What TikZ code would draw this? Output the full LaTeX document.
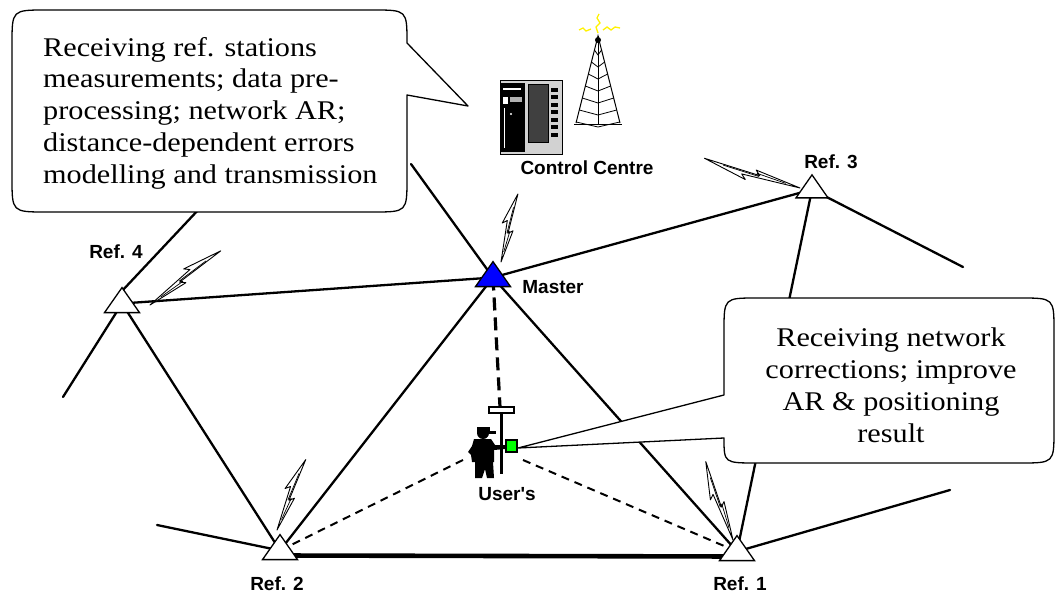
\documentclass[tikz,border=0pt]{standalone}
\usepackage{fontspec}
\setmainfont{Liberation Serif}
\newfontfamily\calloutfont[FakeStretch=1.12]{Liberation Serif}
\newfontfamily\labelfont{Liberation Sans}
\usetikzlibrary{shapes.geometric}

\tikzset{
  net/.style={line width=2.3pt, line cap=round},
  trunk/.style={line width=4.6pt},
  station/.style={isosceles triangle, shape border rotate=90,
    isosceles triangle stretches, minimum width=35pt, minimum height=25pt,
    inner sep=0pt, draw, line width=1.3pt, fill=white},
  masterstation/.style={station, fill=blue},
  link/.style={line width=3.2pt, dash pattern=on 13pt off 7pt},
  rover/.style={line width=2pt, dash pattern=on 8pt off 6pt},
  tag/.style={font=\labelfont\bfseries\fontsize{19}{22}\selectfont, inner sep=0pt},
  balloon/.style={draw, line width=1.3pt, fill=white, line join=round},
  notetext/.style={font=\calloutfont\fontsize{27}{31.7}\selectfont, inner sep=0pt},
  bolt/.pic={
    \draw[line width=0.9pt, fill=white, line join=round]
      (0,0) -- (0.47,6) -- (0.42,1.5) -- (1,4) -- (0.55,-6) -- (0.60,-1.5) -- cycle;
    \draw[line width=0.7pt] (0.15,0.8) -- (0.45,3) -- (0.43,0.5) -- (0.8,2.2);}
}

\begin{document}
\begin{tikzpicture}[x=1pt, y=-1pt]
\useasboundingbox (0,0) rectangle (1057,596);
\fill[white] (0,0) rectangle (1057,596);

% station positions
\coordinate (p4) at (122,303.5);
\coordinate (p3) at (812,189.5);
\coordinate (pm) at (493,277.5);
\coordinate (p2) at (280,550.5);
\coordinate (p1) at (737,551.5);

% free ends of the network lines
\coordinate (r4up) at (200,208);
\coordinate (r4apex) at (122,291);
\coordinate (r4down) at (63,397);
\coordinate (r2left) at (157,525);
\coordinate (r3right) at (963,267);
\coordinate (r1right) at (950,490);
\coordinate (mup) at (411,164);

% rover
\coordinate (poletop) at (500,407);
\coordinate (uL) at (463,460);
\coordinate (uR) at (523,460);
\coordinate (utip) at (518,448);

% network baselines
\draw[net] (p4) -- (pm);
\draw[net] (pm) -- (p3);
\draw[net] (p4) -- (p2);
\draw[net] (p2) -- (pm);
\draw[net] (pm) -- (p1);
\draw[net] (p1) -- (p3);
\draw[net] (r4up) -- (r4apex);
\draw[net] (p4) -- (r4down);
\draw[net] (r2left) -- (p2);
\draw[net] (p3) -- (r3right);
\draw[net] (p1) -- (r1right);
\draw[net] (mup) -- (pm);
\draw[trunk] ([yshift=-5pt]p2) -- ([yshift=-5pt]p1);

% corrections to the rover
\draw[link] (pm) -- (poletop);
\draw[rover] (uL) -- (p2);
\draw[rover] (uR) -- (p1);

% radio links
\pic[rotate=79.3, xscale=70] at (501,262) {bolt};
\pic[rotate=165, xscale=100] at (800,188) {bolt};
\pic[rotate=40, xscale=89] at (150,305) {bolt};
\pic[rotate=70.8, xscale=76] at (277,530) {bolt};
\pic[rotate=111.9, xscale=83] at (733,540) {bolt};

% stations
\node[station] (ref4) at (p4) {};
\node[station, minimum width=32pt, minimum height=23pt] (ref3) at (p3) {};
\node[masterstation] (master) at (pm) {};
\node[station] (ref2) at (p2) {};
\node[station] (ref1) at (p1) {};

% rover: surveyor with pole and receiver
\node (user) at (490,452) [minimum width=45pt, minimum height=70pt, inner sep=0pt] {};
\draw[line width=3pt] (501,411) -- (501,474);
\draw[line width=1.2pt, fill=white] (489,407) rectangle (514,413);
\fill (483,433) circle (6pt);
\fill (477,427) rectangle (490,432);
\fill (488,431) rectangle (496,434);
\fill (474,439) -- (491,439) -- (495,445) -- (505,445) -- (505,449) -- (494,450)
  -- (494,462) -- (472,462) -- (471,455) -- (468,452) -- (472,446) -- cycle;
\fill (475,462) -- (493,462) -- (494,478) -- (487,478) -- (485,469) -- (482,478)
  -- (475,478) -- cycle;
\draw[line width=1.3pt, fill=green] (506,440) rectangle (517,452);

% callouts
\draw[balloon] (468,106) -- (407,95) -- (407,178) .. controls (407,212) .. (373,212)
  -- (46,212) .. controls (12,212) .. (12,178) -- (12,44) .. controls (12,10) .. (46,10)
  -- (373,10) .. controls (407,10) .. (407,43) -- cycle;
\node[notetext, anchor=north west, align=left] (centrenote) at (43,37)
  {Receiving ref. stations\\ measurements; data pre-\\ processing; network AR;\\
   distance-dependent errors\\ modelling and transmission};

\draw[balloon] (utip) -- (724,438) .. controls (724,463) .. (757,463)
  -- (1020,463) .. controls (1054,463) .. (1054,430) -- (1054,331)
  .. controls (1054,298) .. (1020,298) -- (757,298) .. controls (724,298) .. (724,331)
  -- (724,395) -- cycle;
\node[notetext, anchor=north, align=center] (usernote) at (891,328)
  {Receiving network\\ corrections; improve\\ AR \& positioning\\ result};

% control centre: building
\fill[gray!35] (500,81) rectangle (562,155);
\fill[black] (501,83) rectangle (525,152);
\fill[white] (503,88) rectangle (521,90);
\fill[white] (503,97) rectangle (508,104);
\fill[gray!60] (510,97) rectangle (522,102);
\fill[white] (504,108) rectangle (505,148);
\fill[white] (511,114) circle (1.2pt);
\fill[black!75] (528,85) rectangle (548,143);
\draw[line width=1pt] (528,85) rectangle (548,143);
\foreach \k in {0,...,6} \fill (551,88+\k*7.5) rectangle (558,92+\k*7.5);
\draw[line width=1pt] (500,81) rectangle (562,155);

% control centre: radio mast
\draw[line width=1pt] (576,123) -- (598,36) -- (620,123);
\draw[line width=1pt] (598,36) -- (598,125);
\foreach \y in {50,62,74,86,98,110,122} {
  \pgfmathsetmacro\dx{22*(\y-36)/87}
  \draw[line width=0.8pt] (598-\dx,\y) -- (598,\y+5) -- (598+\dx,\y);
}
\draw[line width=0.8pt] (574,124) -- (622,124);
\fill (598,40) circle (3pt);
\draw[yellow, line width=1.3pt] (579,30) -- (583,28) -- (586,31) -- (591,29);
\draw[yellow, line width=1.3pt] (603,30) -- (607,27) -- (611,30) -- (615,27) -- (620,28);
\draw[yellow, line width=1.3pt] (598,33) -- (596,27) -- (600,23) -- (597,18) -- (599,14);

% labels
\node[tag] (ref4label) at (116,252) {Ref. 4};
\node[tag] (ref3label) at (831,162) {Ref. 3};
\node[tag] (masterlabel) at (553,287) {Master};
\node[tag] (userlabel) at (507,494) {User's};
\node[tag] (ref2label) at (277,584) {Ref. 2};
\node[tag] (ref1label) at (740,584) {Ref. 1};
\node[tag] (centrelabel) at (587,168) {Control Centre};
\end{tikzpicture}
\end{document}
